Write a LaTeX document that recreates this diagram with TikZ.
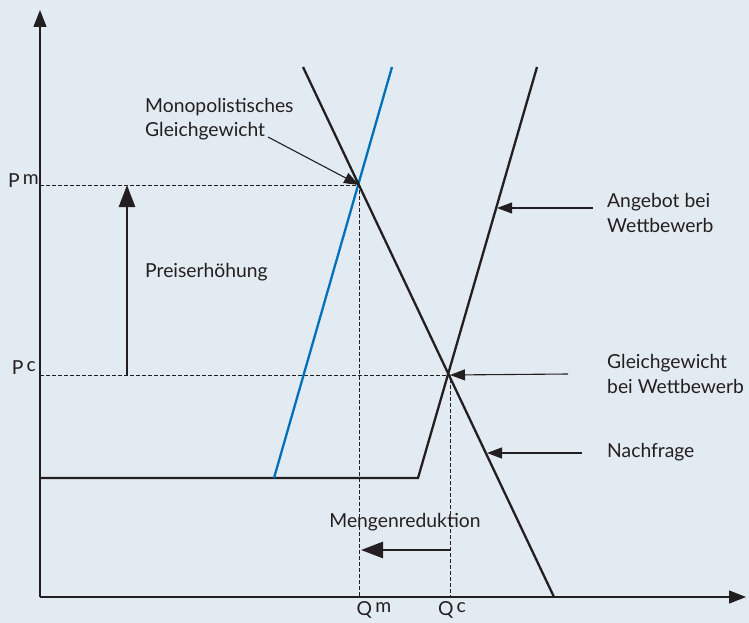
\documentclass[tikz,border=0pt]{standalone}
\usepackage{fontspec}
\setmainfont{Lato}
\usepackage{tikz}
\usetikzlibrary{arrows.meta, positioning}
\definecolor{bgblue}{RGB}{227,235,242}
\definecolor{mcblue}{RGB}{0,112,186}
\definecolor{ink}{RGB}{35,31,32}
\newcommand{\upper}[1]{\,\raisebox{0.16em}{#1}}
\tikzstyle{axis} = [ink, line width=1.3pt, -{Triangle[length=17pt,width=13pt]}]
\tikzstyle{curve} = [ink, line width=2.3pt]
\tikzstyle{guide} = [ink, line width=0.8pt, dash pattern=on 3.5pt off 2.5pt]
\tikzstyle{pointer} = [ink, line width=1.1pt, -{Triangle[length=15pt,width=11pt]}]
\tikzstyle{bigarrow} = [ink, line width=2.8pt, -{Triangle[length=22pt,width=16pt]}]
\tikzstyle{txt} = [text=ink, font=\fontsize{19.3}{24.5}\selectfont, align=left, inner sep=0pt]

\begin{document}
\begin{tikzpicture}[x=1pt, y=-1pt]
		\fill[bgblue] (0,0) rectangle (749,623);
		\useasboundingbox (0,0) rectangle (749,623);

		% axes and points
		\coordinate (O) at (40,597);
		\coordinate (ytop) at (40,10);
		\coordinate (xend) at (746,597);
		\coordinate (Em) at (359,185);
		\coordinate (Ec) at (450,375);
		\coordinate (pm) at (40,185);
		\coordinate (pc) at (40,375);
		\coordinate (qm) at (359,597);
		\coordinate (qc) at (450,597);

		\node (Pm) [txt, anchor=east] at (39,181) {P\upper{m}};
		\node (Pc) [txt, anchor=east] at (36,368) {P\upper{c}};
		\node (Qm) [txt] at (374,610) {Q\upper{m}};
		\node (Qc) [txt] at (452,610) {Q\upper{c}};

		% guides
		\draw [guide] (pm) -- (Em) -- (qm);
		\draw [guide] (pc) -- (Ec) -- (qc);

		% curves
		\coordinate (kink) at (418,478);
		\draw [curve] (O |- kink) -- (kink) -- (537,67);
		\draw [curve, mcblue] (274,478) -- (392,67);
		\draw [curve] (303,67) -- (554,597);

		\draw [axis] (O) -- (ytop);
		\draw [axis] (O) -- (xend);

		% labels
		\node (mono) [txt, anchor=west] at (145,119) {Monopolistisches\\Gleichgewicht};
		\node (preis) [txt, anchor=west] at (145,272) {Preiserhöhung};
		\node (menge) [txt] at (405,522) {Mengenreduktion};
		\node (angebot) [txt, anchor=west] at (607,213) {Angebot bei\\Wettbewerb};
		\node (gleich) [txt, anchor=west] at (607,374) {Gleichgewicht\\bei Wettbewerb};
		\node (nachfrage) [txt, anchor=west] at (607,452) {Nachfrage};

		\coordinate (monostart) at (268,137);
		\coordinate (sA) at (497,208);
		\coordinate (dN) at (487,453);
		\coordinate (astart) at (593,208);
		\coordinate (gstart) at (568,374);
		\coordinate (nstart) at (582,453);

		\draw [pointer] (monostart) -- (Em);
		\draw [pointer] (astart) -- (sA);
		\draw [pointer] (gstart) -- (Ec);
		\draw [pointer] (nstart) -- (dN);

		\coordinate (up0) at (127,375);
		\coordinate (up1) at (127,185);
		\coordinate (left0) at (450,550);
		\coordinate (left1) at (361,550);
		\draw [bigarrow] (up0) -- (up1);
		\draw [bigarrow] (left0) -- (left1);
\end{tikzpicture}
\end{document}
